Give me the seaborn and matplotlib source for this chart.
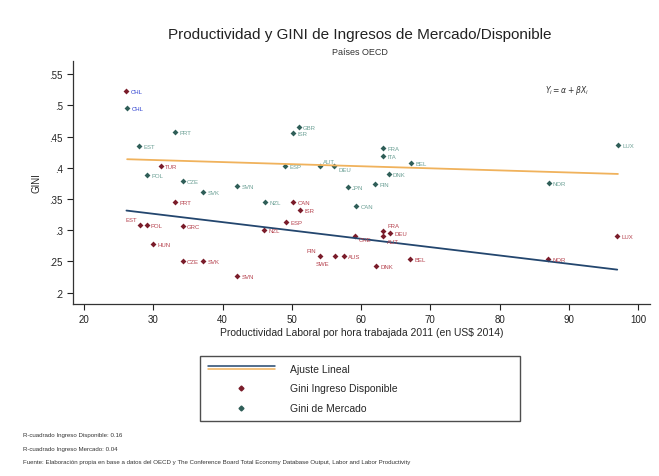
import matplotlib
matplotlib.use("Agg")
import matplotlib.pyplot as plt
import seaborn as sns
import pandas as pd
from matplotlib.lines import Line2D
from matplotlib.legend_handler import HandlerBase

# Gini de ingreso disponible (rojo)
disp_pais = ["CHL", "TUR", "PRT", "EST", "POL", "GRC", "HUN", "CZE", "SVK", "SVN",
             "NZL", "CAN", "ISR", "ESP", "CHE", "FRA", "AUT", "DEU", "FIN", "SWE",
             "AUS", "DNK", "BEL", "NOR", "LUX"]
disp_prod = [26.1, 31.1, 33.1, 28.1, 29.0, 34.2, 30.0, 34.2, 37.2, 42.1,
             46.0, 50.2, 51.2, 49.2, 59.1, 63.2, 63.2, 64.2, 54.1, 56.2,
             57.5, 62.2, 67.1, 87.0, 97.0]
disp_gini = [0.523, 0.403, 0.345, 0.309, 0.309, 0.307, 0.278, 0.251, 0.251, 0.227,
             0.300, 0.345, 0.333, 0.313, 0.290, 0.299, 0.291, 0.295, 0.258, 0.258,
             0.258, 0.242, 0.254, 0.254, 0.291]

# Gini de mercado (verde)
merc_pais = ["CHL", "PRT", "EST", "POL", "CZE", "SVK", "SVN", "NZL", "GBR", "ISR",
             "ESP", "AUT", "DEU", "FRA", "ITA", "BEL", "DNK", "FIN", "JPN", "CAN",
             "NOR", "LUX"]
merc_prod = [26.2, 33.1, 27.9, 29.1, 34.2, 37.2, 42.1, 46.1, 51.0, 50.2,
             49.0, 54.1, 56.1, 63.2, 63.2, 67.2, 64.0, 62.0, 58.1, 59.3,
             87.1, 97.1]
merc_gini = [0.496, 0.457, 0.435, 0.389, 0.379, 0.361, 0.371, 0.345, 0.465, 0.456,
             0.403, 0.403, 0.403, 0.432, 0.419, 0.408, 0.390, 0.374, 0.369, 0.339,
             0.376, 0.437]

x_ticks = [20, 30, 40, 50, 60, 70, 80, 90, 100]
y_ticks = [0.2, 0.25, 0.3, 0.35, 0.4, 0.45, 0.5, 0.55]
y_tick_labels = [".2", ".25", ".3", ".35", ".4", ".45", ".5", ".55"]

sns.set_style("ticks")
plt.rcParams['font.family'] = ['Liberation Sans', 'DejaVu Sans']

RED_MK = "#7a1c2a"
RED_TX = "#b5404c"
GRN_MK = "#2f5e58"
GRN_TX = "#6a9f94"
BLUE_LN = "#23466e"
ORNG_LN = "#f0b25c"

# etiquetas que chocan: desplazamiento en puntos
label_offsets = {
    ("d", "EST"): (-2, 2.5),
    ("d", "FRA"): (3, 2.5),
    ("d", "AUT"): (3, -5),
    ("d", "DEU"): (3, -1.5),
    ("d", "FIN"): (-3, 3),
    ("d", "SWE"): (-4, -6),
    ("d", "AUS"): (3, -1.5),
    ("d", "CHE"): (3, -3.5),
    ("m", "AUT"): (2, 2),
    ("m", "DEU"): (3, -3.5),
}


class TwoLines(HandlerBase):
    # linea azul arriba y naranja abajo, como en la leyenda de Stata
    def create_artists(self, legend, orig, xd, yd, w, h, fontsize, trans):
        top = Line2D([xd, xd + w], [yd + h * 0.72] * 2, color=BLUE_LN, lw=1.1, transform=trans)
        bot = Line2D([xd, xd + w], [yd + h * 0.28] * 2, color=ORNG_LN, lw=1.1, transform=trans)
        return [top, bot]


df_disp = pd.DataFrame({"pais": disp_pais, "prod": disp_prod, "gini": disp_gini})
df_merc = pd.DataFrame({"pais": merc_pais, "prod": merc_prod, "gini": merc_gini})

fig = plt.figure(figsize=(6.59, 4.77), dpi=100)
ax = fig.add_axes([0.111, 0.361, 0.875, 0.509])

sns.regplot(data=df_merc, x="prod", y="gini", scatter=False, ci=None, ax=ax,
            line_kws={"color": ORNG_LN, "lw": 1.3})
sns.regplot(data=df_disp, x="prod", y="gini", scatter=False, ci=None, ax=ax,
            line_kws={"color": BLUE_LN, "lw": 1.3})
sns.scatterplot(data=df_disp, x="prod", y="gini", ax=ax, marker="D", s=9,
                color=RED_MK, edgecolor=RED_MK, linewidth=0)
sns.scatterplot(data=df_merc, x="prod", y="gini", ax=ax, marker="D", s=9,
                color=GRN_MK, edgecolor=GRN_MK, linewidth=0)

for key, df, col in [("d", df_disp, RED_TX), ("m", df_merc, GRN_TX)]:
    for _, r in df.iterrows():
        c = "#2b3fd0" if r["pais"] == "CHL" else col
        off = label_offsets.get((key, r["pais"]), (3, -1.5))
        ha = "right" if off[0] < 0 else "left"
        ax.annotate(r["pais"], (r["prod"], r["gini"]), xytext=off, ha=ha,
                    textcoords="offset points", fontsize=4.3, color=c)

ax.text(86.6, 0.521, r"$Y_i = \alpha + \beta X_i$", fontsize=5.5, color="#333333")

ax.set_xlim(18.4, 101.7)
ax.set_ylim(0.182, 0.571)
ax.set_xticks(x_ticks)
ax.set_yticks(y_ticks)
ax.set_yticklabels(y_tick_labels)
ax.tick_params(labelsize=7, length=4, width=0.8, colors="#222222")
ax.set_xlabel("Productividad Laboral por hora trabajada 2011 (en US$ 2014)",
              fontsize=7.5, labelpad=2)
ax.set_ylabel("GINI", fontsize=7, labelpad=6)
sns.despine(ax=ax)
for s in ["left", "bottom"]:
    ax.spines[s].set_color("#333333")
    ax.spines[s].set_linewidth(0.9)

fig.text(0.546, 0.918, "Productividad y GINI de Ingresos de Mercado/Disponible",
         ha="center", fontsize=11, color="#222222")
fig.text(0.546, 0.884, "Países OECD", ha="center", fontsize=6.5, color="#333333")

handles = [
    object(),
    Line2D([], [], ls="", marker="D", ms=2.5, color=RED_MK),
    Line2D([], [], ls="", marker="D", ms=2.5, color=GRN_MK),
]
labels = ["Ajuste Lineal", "Gini Ingreso Disponible", "Gini de Mercado"]
leg = fig.legend(handles, labels, loc="upper left",
                 bbox_to_anchor=(0.296, 0.107, 0.501, 0.155), mode="expand",
                 fontsize=7.5, frameon=True, fancybox=False, edgecolor="#222222",
                 handlelength=6.5, borderpad=0.7, labelspacing=0.95, handletextpad=1.4,
                 handler_map={object: TwoLines()})
leg.get_frame().set_linewidth(1.0)

notes = [
    "R-cuadrado Ingreso Disponible: 0.16",
    "R-cuadrado Ingreso Mercado: 0.04",
    "Fuente: Elaboración propia en base a datos del OECD y The Conference Board Total Economy Database Output, Labor and Labor Productivity",
]
for i, n in enumerate(notes):
    fig.text(0.035, 0.083 - i * 0.028, n, fontsize=4.4, color="#333333")

fig.savefig("out.png", dpi=100)
